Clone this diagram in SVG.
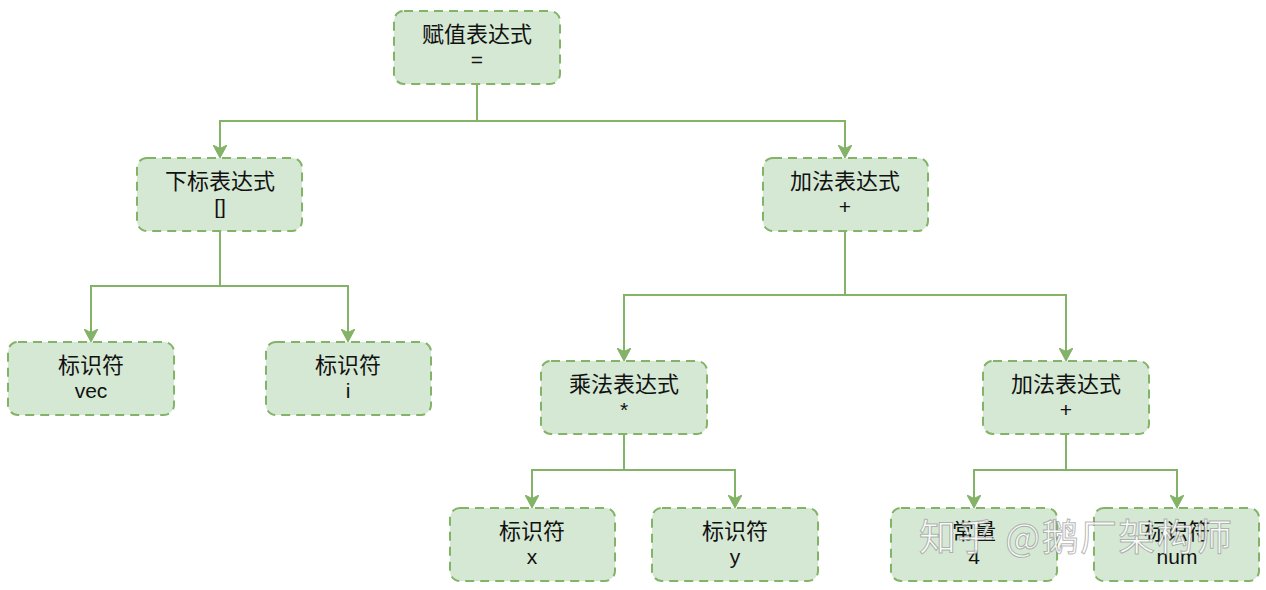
<svg xmlns="http://www.w3.org/2000/svg" width="1266" height="590" viewBox="0 0 1266 590">
<style>
.n rect{fill:#d5e8d4;stroke:#82b366;stroke-width:2;stroke-dasharray:9 6}
.n text{font-family:"Liberation Sans","Noto Sans CJK SC",sans-serif;font-size:21px;fill:#111;text-anchor:middle}
.n text.z{font-size:22px}
.c path{fill:none;stroke:#82b366;stroke-width:2}
.wm{font-family:"Noto Sans CJK SC",sans-serif;font-size:37px;fill:#fff;fill-opacity:0.85;stroke:#777;stroke-opacity:0.55;stroke-width:1}
</style>
<defs>
<marker id="a" viewBox="0 0 14 14" refX="12" refY="7" markerWidth="14" markerHeight="14" markerUnits="userSpaceOnUse" orient="auto">
<path d="M0,0 L13,7 L0,14 L3.5,7 Z" fill="#82b366" stroke="#82b366" stroke-width="1"/>
</marker>
</defs>
<rect width="1266" height="590" fill="#fff"/>
<g class="c">
<path d="M477,84 V121 H220 V157" marker-end="url(#a)"/>
<path d="M477,121 H845 V157" marker-end="url(#a)"/>
<path d="M220,231 V286 H91 V341" marker-end="url(#a)"/>
<path d="M220,286 H348 V341" marker-end="url(#a)"/>
<path d="M845,231 V295 H624 V360" marker-end="url(#a)"/>
<path d="M845,295 H1066 V360" marker-end="url(#a)"/>
<path d="M624,434 V470 H532 V507" marker-end="url(#a)"/>
<path d="M624,470 H735 V507" marker-end="url(#a)"/>
<path d="M1066,434 V470 H974 V507" marker-end="url(#a)"/>
<path d="M1066,470 H1177 V507" marker-end="url(#a)"/>
</g>
<g id="root" class="n"><rect x="394" y="11" width="166" height="73" rx="10"/><text class="z" x="477" y="42">赋值表达式</text><text x="477" y="67">=</text></g>
<g id="subscript" class="n"><rect x="137" y="158" width="165" height="73" rx="10"/><text class="z" x="220" y="189">下标表达式</text><text x="220" y="214">[]</text></g>
<g id="add1" class="n"><rect x="763" y="158" width="165" height="73" rx="10"/><text class="z" x="845" y="189">加法表达式</text><text x="845" y="214">+</text></g>
<g id="vec" class="n"><rect x="8" y="342" width="166" height="73" rx="10"/><text class="z" x="91" y="373">标识符</text><text x="91" y="398">vec</text></g>
<g id="i" class="n"><rect x="266" y="342" width="165" height="73" rx="10"/><text class="z" x="348" y="373">标识符</text><text x="348" y="398">i</text></g>
<g id="mul" class="n"><rect x="541" y="361" width="166" height="73" rx="10"/><text class="z" x="624" y="392">乘法表达式</text><text x="624" y="417">*</text></g>
<g id="add2" class="n"><rect x="983" y="361" width="166" height="73" rx="10"/><text class="z" x="1066" y="392">加法表达式</text><text x="1066" y="417">+</text></g>
<g id="x" class="n"><rect x="450" y="508" width="165" height="73" rx="10"/><text class="z" x="532" y="539">标识符</text><text x="532" y="564">x</text></g>
<g id="y" class="n"><rect x="652" y="508" width="166" height="73" rx="10"/><text class="z" x="735" y="539">标识符</text><text x="735" y="564">y</text></g>
<g id="const4" class="n"><rect x="891" y="508" width="166" height="73" rx="10"/><text class="z" x="974" y="539">常量</text><text x="974" y="564">4</text></g>
<g id="num" class="n"><rect x="1094" y="508" width="165" height="73" rx="10"/><text class="z" x="1177" y="539">标识符</text><text x="1177" y="564">num</text></g>
<text class="wm" x="919" y="551" textLength="313" lengthAdjust="spacing">知乎 @鹅厂架构师</text>
</svg>
